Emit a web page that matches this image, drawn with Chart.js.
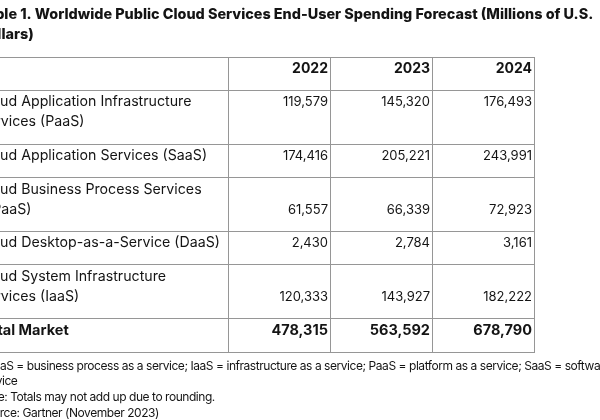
<!DOCTYPE html>
<html>
<head>
<meta charset="utf-8">
<script src="https://cdn.jsdelivr.net/npm/chart.js@4.4.0/dist/chart.umd.min.js"></script>
<style>
  html, body { margin: 0; padding: 0; background: #fff; overflow: hidden; }
  #wrap { position: relative; width: 600px; height: 420px; overflow: hidden; }
  /* the reference is cropped on the left, so the canvas starts off-screen */
  #table { position: absolute; left: -40px; top: 0; }
</style>
</head>
<body>
<div id="wrap"><canvas id="table" width="640" height="420"></canvas></div>
<script>
// data
const titleLines = [
  'Table 1. Worldwide Public Cloud Services End-User Spending Forecast (Millions of U.S.',
  'Dollars)'
];
const years = ['2022', '2023', '2024'];
const segments = [
  ['Cloud Application Infrastructure', 'Services (PaaS)'],
  ['Cloud Application Services (SaaS)'],
  ['Cloud Business Process Services', '(BPaaS)'],
  ['Cloud Desktop-as-a-Service (DaaS)'],
  ['Cloud System Infrastructure', 'Services (IaaS)']
];
const spend2022 = [119579, 174416, 61557, 2430, 120333];
const spend2023 = [145320, 205221, 66339, 2784, 143927];
const spend2024 = [176493, 243991, 72923, 3161, 182222];
const totalLabel = 'Total Market';
const totals = [478315, 563592, 678790];
const notes = [
  'BPaaS = business process as a service; IaaS = infrastructure as a service; PaaS = platform as a service; SaaS = software as a',
  'service',
  'Note: Totals may not add up due to rounding.',
  'Source: Gartner (November 2023)'
];

// layout / style
const FONT = 'Inter';
const TEXT = '#141414';
const GRID = '#969696';
const TITLE_X = 18;           // canvas px (canvas sits 40px left of the page)
const LABEL_X = 17.8;
const TOTAL_X = 20;
const NOTE_X = 19;
const CELL_PAD_R = 2;
const LINE_H = 20;
const FIRST_BASE = 16;
const ROW_PAD = 0.65;          // extra row height in line units
const colWeights = [2.5, 1, 1, 1];
const valueOnLastLine = [false, false, true, false, true];

const spendByYear = [spend2022, spend2023, spend2024];
const rowLines = [1, ...segments.map(s => s.length), 1];
const cumulate = arr => arr.reduce((acc, w) => { acc.push(acc[acc.length - 1] + w); return acc; }, [0]);
const colEdges = cumulate(colWeights);
const rowEdges = cumulate(rowLines.map(n => n + ROW_PAD));
const fmt = v => v.toLocaleString('en-US');

const tableText = {
  id: 'tableText',
  afterDraw(chart) {
    const { ctx, chartArea, scales: { x, y } } = chart;
    const colRight = c => x.getPixelForValue(colEdges[c + 1]);
    const rowTop = r => y.getPixelForValue(rowEdges[r]);

    ctx.save();
    ctx.fillStyle = TEXT;
    ctx.textBaseline = 'alphabetic';

    // title
    ctx.textAlign = 'left';
    ctx.font = `800 14.4px ${FONT}`;
    titleLines.forEach((t, i) => ctx.fillText(t, TITLE_X, chartArea.top - 38 + i * 19.5));

    // header
    ctx.font = `bold 14px ${FONT}`;
    ctx.textAlign = 'right';
    years.forEach((yr, c) => ctx.fillText(yr, colRight(c + 1) - CELL_PAD_R, rowTop(0) + FIRST_BASE));

    // segment rows
    segments.forEach((lines, i) => {
      const top = rowTop(i + 1);
      ctx.font = `14.2px ${FONT}`;
      ctx.textAlign = 'left';
      lines.forEach((l, k) => ctx.fillText(l, LABEL_X, top + FIRST_BASE + k * LINE_H));
      ctx.font = `13px ${FONT}`;
      ctx.textAlign = 'right';
      const base = top + FIRST_BASE + (valueOnLastLine[i] ? (lines.length - 1) * LINE_H : 0);
      spendByYear.forEach((vals, c) => ctx.fillText(fmt(vals[i]), colRight(c + 1) - CELL_PAD_R, base));
    });

    // total row
    const tTop = rowTop(segments.length + 1);
    ctx.font = `bold 14.5px ${FONT}`;
    ctx.textAlign = 'left';
    ctx.fillText(totalLabel, TOTAL_X, tTop + FIRST_BASE);
    ctx.textAlign = 'right';
    totals.forEach((v, c) => ctx.fillText(fmt(v), colRight(c + 1) - CELL_PAD_R, tTop + FIRST_BASE));

    // notes
    ctx.font = `12px ${FONT}`;
    ctx.letterSpacing = '-0.45px';
    ctx.textAlign = 'left';
    notes.forEach((n, i) => ctx.fillText(n, NOTE_X, chartArea.bottom + 17.5 + i * 15.8));
    ctx.restore();
  }
};

const gridOpts = { color: GRID, lineWidth: 1, drawTicks: false };

new Chart(document.getElementById('table'), {
  type: 'scatter',
  data: { datasets: [] },
  options: {
    responsive: false,
    animation: false,
    events: [],
    layout: { autoPadding: false, padding: { left: 13, right: 66, top: 57, bottom: 68 } },
    plugins: { legend: { display: false }, tooltip: { enabled: false } },
    scales: {
      x: {
        type: 'linear', min: 0, max: colEdges[colEdges.length - 1],
        grid: gridOpts, border: { color: GRID },
        ticks: { display: false },
        afterBuildTicks: axis => { axis.ticks = colEdges.map(v => ({ value: v })); }
      },
      y: {
        type: 'linear', min: 0, max: rowEdges[rowEdges.length - 1], reverse: true,
        grid: gridOpts, border: { color: GRID },
        ticks: { display: false },
        afterBuildTicks: axis => { axis.ticks = rowEdges.map(v => ({ value: v })); }
      }
    }
  },
  plugins: [tableText]
});
</script>
</body>
</html>
